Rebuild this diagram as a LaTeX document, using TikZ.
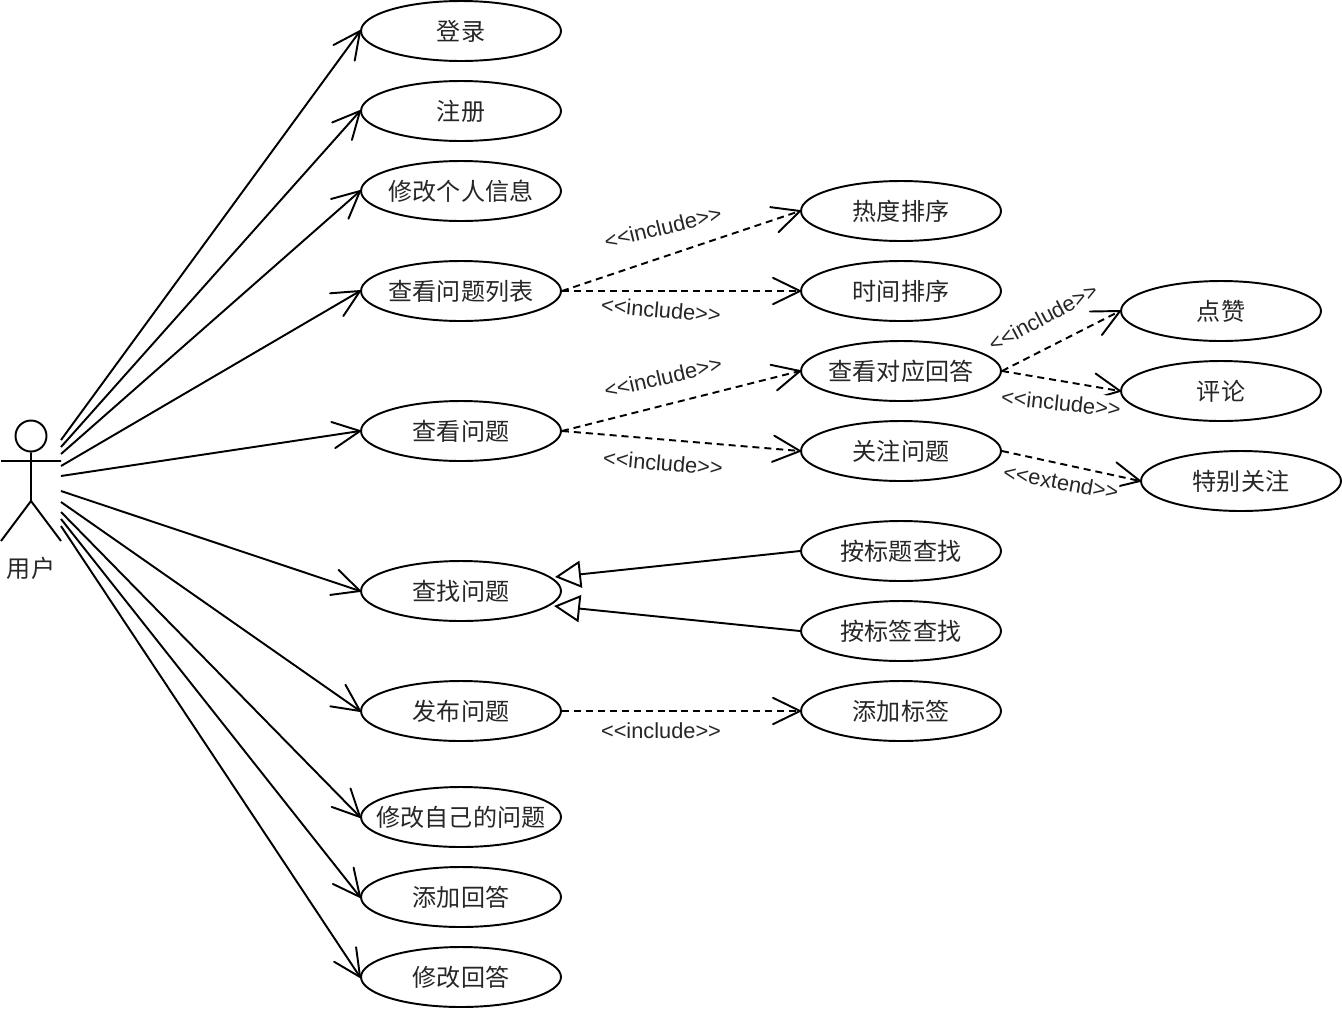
\documentclass[tikz,border=0pt]{standalone}
\usepackage{fontspec}
\setmainfont{Liberation Sans}
\newfontfamily\cjk{Noto Sans CJK SC}
\usetikzlibrary{arrows.meta,shapes.geometric}
\pgfdeclarearrow{name=OpenBarb, setup code={\pgfarrowssettipend{0pt}\pgfarrowssetlineend{-0.5pt}}, drawing code={\pgfsetdash{}{0pt}\pgfsetlinewidth{1.1pt}\pgfsetroundcap\pgfpathmoveto{\pgfqpoint{-15.4pt}{7.5pt}}\pgfpathlineto{\pgfqpoint{0pt}{0pt}}\pgfpathlineto{\pgfqpoint{-15.4pt}{-7.5pt}}\pgfusepathqstroke}}
\tikzset{usecase/.style={ellipse, draw, line width=1.1pt, minimum width=4cm, minimum height=1.2cm, inner xsep=-15pt, inner ysep=0pt, font=\cjk\fontsize{13.7}{16}\selectfont, text=black!85}, assoc/.style={line width=1.1pt, -{OpenBarb}}, dep/.style={assoc, dash pattern=on 4pt off 2.8pt}, gen/.style={line width=1.1pt, -{Triangle[open, length=14.8pt, width=15.4pt, line width=1.1pt]}}, stereo/.style={font=\fontsize{12.4}{14}\selectfont, text=black!85, fill=white, inner xsep=0pt, inner ysep=2.5pt}}

\begin{document}
\begin{tikzpicture}[x=0.02cm, y=-0.02cm]
    \useasboundingbox (0,0) rectangle (1342,1008);
    \node[usecase] (login) at (461,31) {登录};
    \node[usecase] (register) at (461,111) {注册};
    \node[usecase] (profile) at (461,191) {修改个人信息};
    \node[usecase] (list) at (461,291) {查看问题列表};
    \node[usecase] (view) at (461,431) {查看问题};
    \node[usecase] (search) at (461,591) {查找问题};
    \node[usecase] (publish) at (461,711) {发布问题};
    \node[usecase] (editq) at (461,817) {修改自己的问题};
    \node[usecase] (answer) at (461,897) {添加回答};
    \node[usecase] (edita) at (461,977) {修改回答};
    \node[usecase] (hot) at (901,211) {热度排序};
    \node[usecase] (time) at (901,291) {时间排序};
    \node[usecase] (answers) at (901,371) {查看对应回答};
    \node[usecase] (follow) at (901,451) {关注问题};
    \node[usecase] (bytitle) at (901,551) {按标题查找};
    \node[usecase] (bytag) at (901,631) {按标签查找};
    \node[usecase] (addtag) at (901,711) {添加标签};
    \node[usecase] (like) at (1221,311) {点赞};
    \node[usecase] (comment) at (1221,391) {评论};
    \node[usecase] (special) at (1241,481) {特别关注};
    \node[draw, circle, line width=1.1pt, minimum size=0.62cm, inner sep=0pt] (head) at (31,436) {};
    \coordinate (hip) at (31,501);
    \coordinate (armL) at (1,461);
    \coordinate (armR) at (61,461);
    \coordinate (footL) at (1,541);
    \coordinate (footR) at (61,541);
    \draw[line width=1.1pt] (head.south) -- (hip) (armL) -- (armR) (footL) -- (hip) -- (footR);
    \node[font=\cjk\fontsize{13.7}{16}\selectfont, text=black!85, inner sep=0pt] (user) at (31,568) {用户};
    \coordinate (a1) at (61,440);
    \coordinate (a2) at (61,447);
    \coordinate (a3) at (61,454);
    \coordinate (a4) at (61,466);
    \coordinate (a5) at (61,476);
    \coordinate (a6) at (61,491);
    \coordinate (a7) at (61,502);
    \coordinate (a8) at (61,512);
    \coordinate (a9) at (61,519);
    \coordinate (a10) at (61,526);
    \draw[assoc] (a1) -- (login.west);
    \draw[assoc] (a2) -- (register.west);
    \draw[assoc] (a3) -- (profile.west);
    \draw[assoc] (a4) -- (list.west);
    \draw[assoc] (a5) -- (view.west);
    \draw[assoc] (a6) -- (search.west);
    \draw[assoc] (a7) -- (publish.west);
    \draw[assoc] (a8) -- (editq.west);
    \draw[assoc] (a9) -- (answer.west);
    \draw[assoc] (a10) -- (edita.west);
    \draw[dep] (list.east) -- (hot.west);
    \draw[dep] (list.east) -- (time.west);
    \draw[dep] (view.east) -- (answers.west);
    \draw[dep] (view.east) -- (follow.west);
    \draw[dep] (answers.east) -- (like.west);
    \draw[dep] (answers.east) -- (comment.west);
    \draw[dep] (follow.east) -- (special.west);
    \draw[dep] (publish.east) -- (addtag.west);
    \coordinate (genA) at (555,577);
    \coordinate (genB) at (554,606);
    \draw[gen] (bytitle.west) -- (genA);
    \draw[gen] (bytag.west) -- (genB);
    \node[stereo, rotate=14] (l1) at (663,227) {<{}<include>{}>};
    \node[stereo, rotate=-5] (l2) at (661,310) {<{}<include>{}>};
    \node[stereo, rotate=13] (l3) at (663,377) {<{}<include>{}>};
    \node[stereo, rotate=-5] (l4) at (663,463) {<{}<include>{}>};
    \node[stereo, rotate=28] (l5) at (1043,317) {<{}<include>{}>};
    \node[stereo, rotate=-6] (l6) at (1061,403) {<{}<include>{}>};
    \node[stereo, rotate=-10] (l7) at (1061,482) {<{}<extend>{}>};
    \node[stereo] (l8) at (661,731) {<{}<include>{}>};
\end{tikzpicture}
\end{document}
